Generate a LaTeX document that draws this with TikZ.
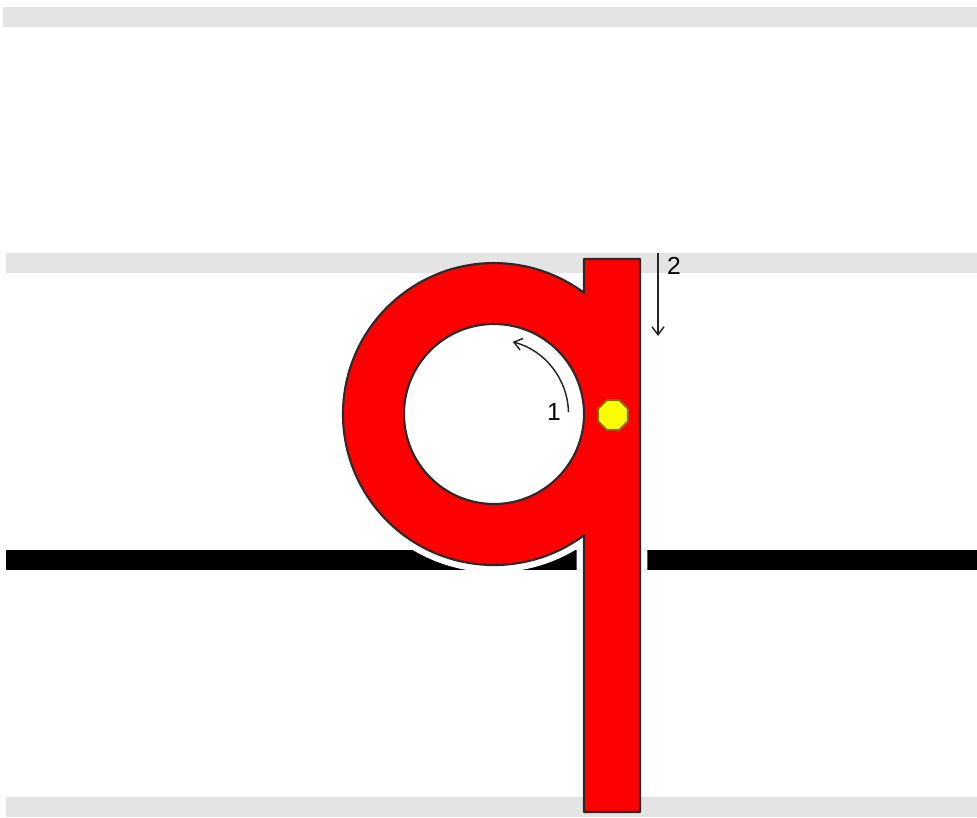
\documentclass[tikz,border=0pt]{standalone}
\usepackage{fontspec}
\setmainfont{Liberation Sans}
\usetikzlibrary{arrows.meta,shapes.geometric}
\definecolor{bandgray}{HTML}{E4E4E4}
\definecolor{letterred}{HTML}{FF0000}
\definecolor{outlinegray}{HTML}{2A2A2A}
\definecolor{dotyellow}{HTML}{FFFF00}
\definecolor{dotedge}{HTML}{7A7A00}
\tikzset{
  band/.style={fill=bandgray, draw=none},
  baseline/.style={fill=black, draw=none},
  halo/.style={draw=white, line width=11pt, line join=round},
  letter/.style={fill=letterred, draw=outlinegray, line width=1.6pt, even odd rule, line join=round},
  stroke arrow/.style={draw=black!85, line width=1.1pt, -{Straight Barb[length=6pt,width=9pt,line width=1.1pt]}},
  numlabel/.style={font=\fontsize{18.5}{20}\selectfont, text=black, inner sep=0pt},
  startdot/.style={regular polygon, regular polygon sides=8, minimum size=24pt, inner sep=0pt, fill=dotyellow, draw=dotedge, line width=1.2pt}
}
\begin{document}
\begin{tikzpicture}[x=0.75pt,y=-0.75pt]
\useasboundingbox (0,0) rectangle (977,817);
\fill[white] (0,0) rectangle (977,817);
% baseline, cut by the white halo of the letter
\path[baseline] (6,550) rectangle (977,570);
\path[halo] (584,259) -- (640,259) -- (640,812) -- (584,812) -- (584,535.25)
  arc[start angle=53.4, end angle=306.6, radius=151] -- cycle;
% gray guide bands
\path[band] (3,7) rectangle (977,27);
\path[band] (6,253) rectangle (977,273);
\path[band] (6,797) rectangle (977,817);
% letter q
\path[letter] (584,259) -- (640,259) -- (640,812) -- (584,812) -- (584,535.25)
  arc[start angle=53.4, end angle=306.6, radius=151] -- cycle
  (494,414) circle[radius=90];
% stroke 1
\coordinate (s1) at ({494+74.5*cos(-1.5)},{414+74.5*sin(-1.5)});
\draw[stroke arrow] (s1) arc[start angle=-1.5, end angle=-75.5, radius=74.5];
\node[numlabel] (n1) at (554,412) {1};
% stroke 2
\coordinate (s2a) at (658,253);
\coordinate (s2b) at (658,336);
\draw[stroke arrow] (s2a) -- (s2b);
\node[numlabel] (n2) at (674,266) {2};
% start dot
\node[startdot] (dot) at (613,415) {};
\end{tikzpicture}
\end{document}
